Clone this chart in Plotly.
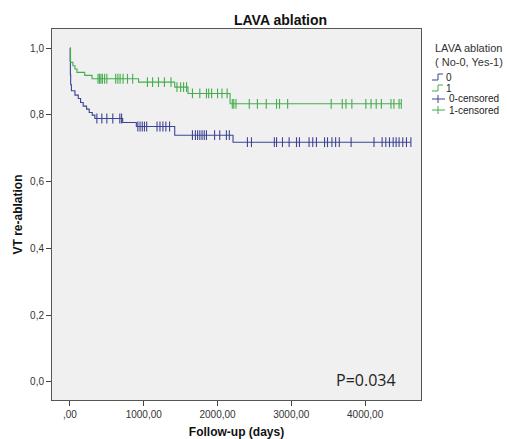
import plotly.graph_objects as go

# Group 0 (No LAVA ablation): event step times and survival
t0 = [0, 3, 6, 10, 20, 68, 113, 144, 180, 225, 261, 302, 338, 715, 900, 1420, 2210]
s0 = [1.0, 0.96, 0.92, 0.89, 0.872, 0.859, 0.849, 0.837, 0.826, 0.817, 0.807, 0.799, 0.789, 0.777, 0.765, 0.739, 0.718]
c0 = [365, 432, 500, 581, 676, 700, 920, 950, 980, 1010, 1040, 1180, 1220, 1260, 1300, 1350,
      1660, 1700, 1730, 1760, 1790, 1820, 1850, 1960, 2030, 2120, 2160, 2405, 2460, 2770, 2800,
      2880, 2970, 3070, 3110, 3240, 3290, 3340, 3450, 3490, 3550, 3600, 3650, 3810, 4120, 4230,
      4280, 4330, 4380, 4420, 4460, 4510, 4560, 4620]

# Group 1 (LAVA ablation)
t1 = [0, 8, 40, 68, 95, 200, 300, 930, 1420, 1600, 2170]
s1 = [1.0, 0.957, 0.947, 0.937, 0.927, 0.918, 0.908, 0.898, 0.883, 0.864, 0.833]
c1 = [380, 400, 420, 440, 470, 500, 620, 650, 680, 720, 780, 850, 1050, 1120, 1200, 1280, 1370,
      1450, 1500, 1540, 1580, 1660, 1760, 1850, 1880, 1920, 2000, 2060, 2130, 2200, 2220, 2250,
      2430, 2540, 2660, 2800, 2840, 2950, 3540, 3690, 3740, 3820, 4010, 4080, 4150, 4220, 4350,
      4390, 4460, 4490]

xtick_vals = [0, 1000, 2000, 3000, 4000]
xtick_text = [",00", "1000,00", "2000,00", "3000,00", "4000,00"]
ytick_vals = [0, 0.2, 0.4, 0.6, 0.8, 1.0]
ytick_text = ["0,0", "0,2", "0,4", "0,6", "0,8", "1,0"]
legend_title = "LAVA ablation<br>( No-0, Yes-1)"
legend_labels = ["0", "1", "0-censored", "1-censored"]

BLUE = "#3d4493"
GREEN = "#43ad4c"
FONT = "Liberation Sans, Arial, sans-serif"

W, H = 507, 439
L, R, T, B = 52, 86, 29, 39
PW, PH = W - L - R, H - T - B


def px(xp):
    return (xp - L) / PW


def py(yp):
    return (H - B - yp) / PH


def surv_at(times, surv, t):
    v = surv[0]
    for ti, si in zip(times, surv):
        if ti <= t:
            v = si
    return v


def full_line(times, surv, cens):
    end = max(cens[-1], times[-1])
    return times + [end], surv + [surv_at(times, surv, end)]


fig = go.Figure()
x0, y0 = full_line(t0, s0, c0)
x1, y1 = full_line(t1, s1, c1)
fig.add_trace(go.Scatter(x=x0, y=y0, mode="lines", line=dict(shape="hv", color=BLUE, width=1.1),
                         name=legend_labels[0], showlegend=False))
fig.add_trace(go.Scatter(x=x1, y=y1, mode="lines", line=dict(shape="hv", color=GREEN, width=1.1),
                         name=legend_labels[1], showlegend=False))
fig.add_trace(go.Scatter(x=c0, y=[surv_at(t0, s0, c) for c in c0], mode="markers",
                         marker=dict(symbol="line-ns-open", size=7, color=BLUE, line=dict(color=BLUE, width=1.1)),
                         name=legend_labels[2], showlegend=False))
fig.add_trace(go.Scatter(x=c1, y=[surv_at(t1, s1, c) for c in c1], mode="markers",
                         marker=dict(symbol="line-ns-open", size=7, color=GREEN, line=dict(color=GREEN, width=1.1)),
                         name=legend_labels[3], showlegend=False))

# --- manual legend (SPSS style) ---
ann = []
shapes = []
ann.append(dict(x=px(433), y=py(55), xref="paper", yref="paper", text=legend_title, showarrow=False,
                xanchor="left", yanchor="middle", align="left",
                font=dict(family=FONT, size=11, color="#333")))
item_y = [77, 88, 99, 110]
colors = [BLUE, GREEN, BLUE, GREEN]
for i, (lab, yy, col) in enumerate(zip(legend_labels, item_y, colors)):
    if i < 2:
        shapes.append(dict(type="path", xref="paper", yref="paper",
                           path=f"M {px(432)} {py(yy + 3)} L {px(438)} {py(yy + 3)} L {px(438)} {py(yy - 3)} L {px(443)} {py(yy - 3)}",
                           line=dict(color=col, width=1)))
        tx = 444
    else:
        shapes.append(dict(type="line", xref="paper", yref="paper", x0=px(432), x1=px(445), y0=py(yy), y1=py(yy),
                           line=dict(color=col, width=1)))
        shapes.append(dict(type="line", xref="paper", yref="paper", x0=px(438), x1=px(438), y0=py(yy - 4), y1=py(yy + 4),
                           line=dict(color=col, width=1)))
        tx = 447
    ann.append(dict(x=px(tx), y=py(yy), xref="paper", yref="paper", text=lab, showarrow=False,
                    xanchor="left", yanchor="middle", font=dict(family=FONT, size=10, color="#222")))

# title
ann.append(dict(x=px(280), y=py(20), xref="paper", yref="paper", text="<b>LAVA ablation</b>", showarrow=False,
                xanchor="center", yanchor="middle", font=dict(family=FONT, size=14, color="#111")))
# p-value
ann.append(dict(x=px(366), y=py(380), xref="paper", yref="paper", text="P=0.034", showarrow=False,
                xanchor="center", yanchor="middle", font=dict(family="Open Sans, sans-serif", size=16, color="#222")))

fig.update_layout(
    width=W, height=H,
    margin=dict(l=L, r=R, t=T, b=B),
    paper_bgcolor="white", plot_bgcolor="#f0f0f0",
    font=dict(family=FONT, size=10, color="#333"),
    showlegend=False,
    annotations=ann, shapes=shapes,
)
fig.update_xaxes(range=[-243, 4757], tickvals=xtick_vals, ticktext=xtick_text, ticks="outside",
                 ticklen=5, tickcolor="#444", showgrid=False, zeroline=False, showline=True,
                 linecolor="#555", linewidth=1, mirror=True, automargin=False,
                 title=dict(text="<b>Follow-up (days)</b>", font=dict(size=12, color="#111"), standoff=10))
fig.update_yaxes(range=[-0.054, 1.057], tickvals=ytick_vals, ticktext=ytick_text, ticks="outside",
                 ticklen=5, tickcolor="#444", showgrid=False, zeroline=False, showline=True,
                 linecolor="#555", linewidth=1, mirror=True, automargin=False,
                 title=dict(text="<b>VT re-ablation</b>", font=dict(size=12, color="#111"), standoff=4))

fig.write_html("out.html", config={"displayModeBar": False},
               post_script="document.body.style.margin='0';document.body.style.padding='0';")
